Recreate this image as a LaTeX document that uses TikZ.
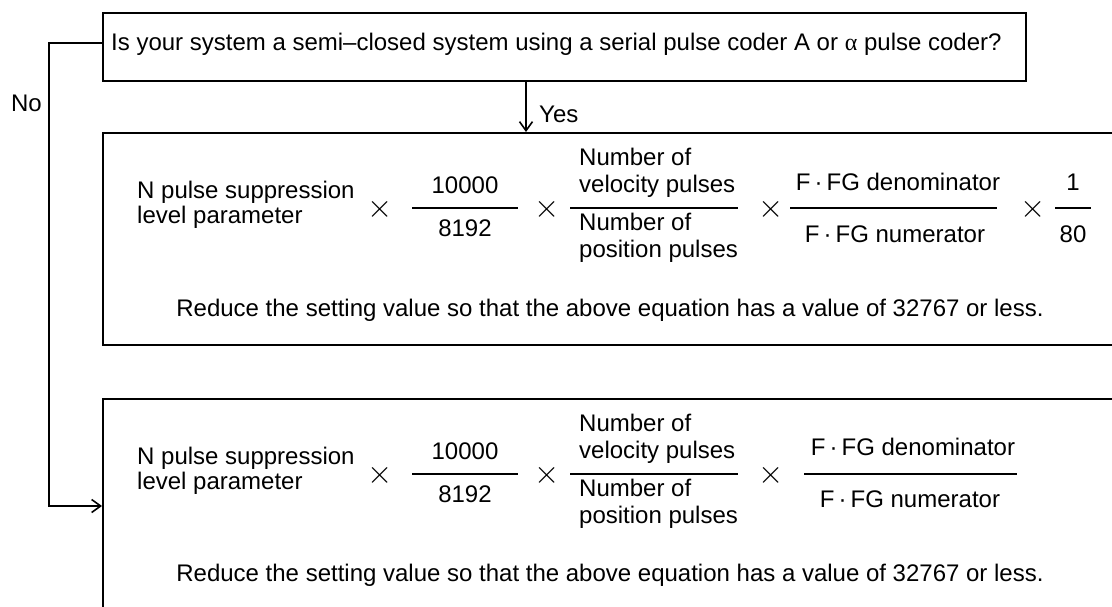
\documentclass[tikz,border=0pt]{standalone}
\usepackage{fontspec}
\setmainfont{Liberation Sans}
\newfontfamily\greekfont{Liberation Serif}
\usetikzlibrary{arrows.meta}
\newcommand\fsz{\fontsize{24}{25}\selectfont}
\newcommand\tms{\scalebox{1.3}{$\times$}}
\tikzset{
  every node/.style={font=\fsz, inner sep=0pt, text=black},
  box/.style={draw, line width=2pt, rectangle, anchor=north west},
  tl/.style={anchor=base west},
  tc/.style={anchor=base},
  tr/.style={anchor=base east},
  times/.style={anchor=center},
  bar/.style={line width=1.4pt},
  conn/.style={line width=1.8pt},
  arr/.style={conn, -{Straight Barb[length=9pt,width=13pt,line width=1.6pt]}},
}
\begin{document}
\begin{tikzpicture}[x=1pt,y=-1pt]
\useasboundingbox (0,0) rectangle (1112,606);
\clip (0,0) rectangle (1112,606);
\fill[white] (0,0) rectangle (1112,606);

% boxes
\node[box, minimum width=923pt, minimum height=68pt] (q) at (102,12) {};
\node[box, minimum width=1100pt, minimum height=212pt] (m) at (102,132) {};
\node[box, minimum width=1100pt, minimum height=300pt] (b) at (102,398) {};

\node[tl] (qtext) at (111,50) {Is your system a semi--closed system using a serial pulse coder A or {\greekfont α} pulse coder?};

% connectors
\coordinate (yx) at (526,0);
\coordinate (nx) at (49,0);
\draw[arr] (q.south -| yx) -- (m.north -| yx);
\node[tl] (yes) at (539,122) {Yes};
\draw[arr] ([yshift=4pt]q.west) -| ([yshift=-108pt]b.north west -| nx) -- ([yshift=-108pt]b.north west);
\node[tr] (no) at (42,111) {No};

% middle box formula
\node[tl] (m1a) at (137,198) {N pulse suppression};
\node[tl] (m1b) at (137,223) {level parameter};
\node[times] (mx1) at (380,209) {\tms};
\draw[bar] (412,208) -- (518,208);
\node[tc] (mn1) at (465,193) {10000};
\node[tc] (md1) at (465,236) {8192};
\node[times] (mx2) at (547,209) {\tms};
\draw[bar] (570,208) -- (738,208);
\node[tl] (mn2a) at (579,165) {Number of};
\node[tl] (mn2b) at (579,192) {velocity pulses};
\node[tl] (md2a) at (579,230) {Number of};
\node[tl] (md2b) at (579,257) {position pulses};
\node[times] (mx3) at (771,209) {\tms};
\draw[bar] (790,208) -- (997,208);
\node[tc] (mn3) at (898,190) {F\,·\,FG denominator};
\node[tc] (md3) at (895,242) {F\,·\,FG numerator};
\node[times] (mx4) at (1033,209) {\tms};
\draw[bar] (1055,208) -- (1091,208);
\node[tc] (mn4) at (1073,190) {1};
\node[tc] (md4) at (1073,242) {80};
\node[tc] (mred) at (610,316) {Reduce the setting value so that the above equation has a value of 32767 or less.};

% bottom box formula
\node[tl] (b1a) at (137,464) {N pulse suppression};
\node[tl] (b1b) at (137,489) {level parameter};
\node[times] (bx1) at (380,475) {\tms};
\draw[bar] (412,474) -- (518,474);
\node[tc] (bn1) at (465,459) {10000};
\node[tc] (bd1) at (465,502) {8192};
\node[times] (bx2) at (547,475) {\tms};
\draw[bar] (570,474) -- (738,474);
\node[tl] (bn2a) at (579,431) {Number of};
\node[tl] (bn2b) at (579,458) {velocity pulses};
\node[tl] (bd2a) at (579,496) {Number of};
\node[tl] (bd2b) at (579,523) {position pulses};
\node[times] (bx3) at (771,475) {\tms};
\draw[bar] (804,474) -- (1017,474);
\node[tc] (bn3) at (913,455) {F\,·\,FG denominator};
\node[tc] (bd3) at (910,507) {F\,·\,FG numerator};
\node[tc] (bred) at (610,581) {Reduce the setting value so that the above equation has a value of 32767 or less.};
\end{tikzpicture}
\end{document}
